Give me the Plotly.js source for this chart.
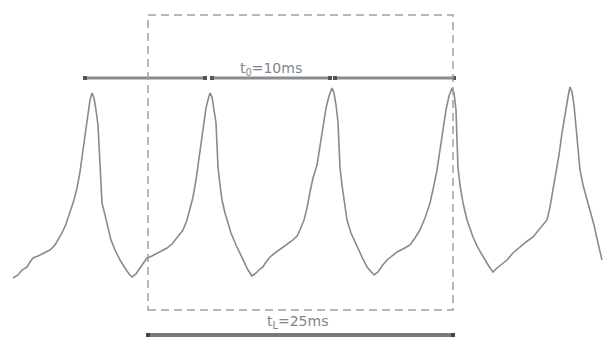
<!DOCTYPE html>
<html>
<head>
<meta charset="utf-8">
<script src="https://cdn.plot.ly/plotly-3.0.1.min.js"></script>
<style>html,body{margin:0;padding:0;background:#fff;}#chart{width:603px;height:340px;}</style>
</head>
<body>
<div id="chart"></div>
<script>
// Signal samples (sample index) and amplitude (ADC counts)
const sampleIdx = [
  13,18,22,27,30,33,38,44,50,55,58,62,66,70,74,77,80,83,86,88,90,92,
  94,96,98,99,100,101,102,105,108,111,115,120,125,129,132,
  136,140,144,147,152,158,163,167,172,177,183,187,190,193,196,198,201,204,206,208,210,
  212,214,216,217,218,220,222,225,227,231,236,240,244,248,252,
  256,260,263,266,270,275,279,283,288,293,297,300,304,307,310,313,317,320,323,326,329,332,
  334,336,338,339,340,342,344,347,351,357,362,367,371,374,
  378,382,387,392,397,403,410,415,420,425,430,434,437,440,443,446,449,452,
  454,456,457,458,460,463,467,473,478,483,487,490,493,
  497,502,507,513,520,526,533,540,547,550,553,556,559,562,565,568,570,
  572,574,576,578,580,583,587,590,594,598,602
];
const amplitude = [
  22,25,30,33,38,42,44,47,50,55,60,67,76,87,100,112,128,150,170,188,200,207,
  202,190,175,155,133,115,97,85,72,60,50,40,32,26,23,
  26,32,38,42,44,47,50,52,56,62,70,80,92,103,120,135,157,178,192,200,207,
  203,192,177,155,133,115,100,87,80,67,55,47,38,30,24,
  27,31,33,38,43,47,50,53,56,60,64,70,80,92,108,122,135,155,175,192,204,212,
  207,195,178,155,132,115,100,80,67,53,43,33,28,25,
  28,34,40,44,48,51,55,62,70,82,97,115,130,150,172,190,204,212,
  207,190,160,132,115,97,80,63,52,43,37,32,28,
  32,36,40,47,53,58,63,71,80,93,110,125,145,167,187,203,213,
  208,195,175,152,130,115,100,90,75,57,40
];

// Period markers (t0 = 10 ms) between successive peaks
const periodStart = [85, 212, 335];
const periodEnd   = [205, 330, 454];
const periodLevel = 222;
const periodLabel = 't<sub>0</sub>=10ms';

// Analysis window (tL = 25 ms)
const windowStart = 148;
const windowEnd = 453;
const windowTop = 285;
const windowBottom = -10;
const windowBarLevel = -35;
const windowLabel = 't<sub>L</sub>=25ms';

const traces = [{
  x: sampleIdx, y: amplitude, type: 'scatter', mode: 'lines',
  line: {color: '#8a8a8a', width: 1.6}, hoverinfo: 'skip'
}];

for (let i = 0; i < periodStart.length; i++) {
  traces.push({
    x: [periodStart[i], periodEnd[i]], y: [periodLevel, periodLevel],
    type: 'scatter', mode: 'lines+markers',
    line: {color: '#8c8c8c', width: 3},
    marker: {symbol: 'square', size: 4, color: '#555'}, hoverinfo: 'skip'
  });
}
traces.push({
  x: [windowStart, windowEnd], y: [windowBarLevel, windowBarLevel],
  type: 'scatter', mode: 'lines+markers',
  line: {color: '#7a7a7a', width: 4},
  marker: {symbol: 'square', size: 4, color: '#444'}, hoverinfo: 'skip'
});

const layout = {
  width: 603, height: 340,
  margin: {l: 0, r: 0, t: 0, b: 0},
  paper_bgcolor: '#fff', plot_bgcolor: '#fff',
  showlegend: false,
  xaxis: {range: [0, 603], visible: false, fixedrange: true},
  yaxis: {range: [-40, 300], visible: false, fixedrange: true},
  shapes: [{
    type: 'rect', xref: 'x', yref: 'y',
    x0: windowStart, x1: windowEnd, y0: windowBottom, y1: windowTop,
    line: {color: '#a0a0a0', width: 1.5, dash: '8px,5px'}, fillcolor: 'rgba(0,0,0,0)'
  }],
  annotations: [
    {x: 271, y: periodLevel + 9, text: periodLabel, showarrow: false,
     font: {family: 'DejaVu Sans, sans-serif', size: 14, color: '#7d8590'}},
    {x: 297, y: windowBarLevel + 13, text: windowLabel, showarrow: false,
     font: {family: 'DejaVu Sans, sans-serif', size: 14, color: '#7d8590'}}
  ]
};

Plotly.newPlot('chart', traces, layout, {staticPlot: true, displayModeBar: false});
</script>
</body>
</html>
